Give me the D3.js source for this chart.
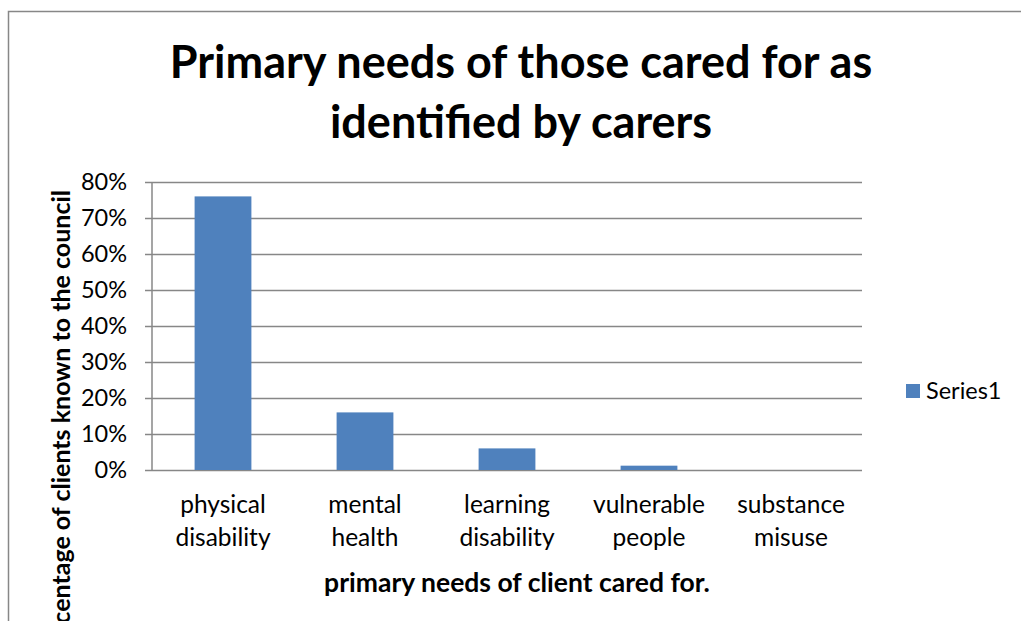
<!DOCTYPE html>
<html>
<head>
<meta charset="utf-8">
<script src="https://cdn.jsdelivr.net/npm/d3@7"></script>
<style>
  html, body { margin: 0; padding: 0; background: #fff; }
  svg { display: block; }
  text { font-family: Lato, "Open Sans", sans-serif; fill: #000; }
</style>
</head>
<body>
<svg id="chart" width="1021" height="621"></svg>
<script>
// Chart data
const categories = [
  ["physical", "disability"],
  ["mental", "health"],
  ["learning", "disability"],
  ["vulnerable", "people"],
  ["substance", "misuse"]
];
const series1 = [0.76, 0.16, 0.06, 0.012, 0];
const yTicks = [0, 0.1, 0.2, 0.3, 0.4, 0.5, 0.6, 0.7, 0.8];
const titleLines = ["Primary needs of those cared for as", "identified by carers"];
const xTitle = "primary needs of client cared for.";
const yTitle = "Percentage of clients known to the council";
const seriesName = "Series1";

const W = 1021, H = 621;
const plot = { left: 152, right: 862, top: 182, bottom: 470 };
const gridColor = "#878787";
const barColor = "#4f81bd";

const svg = d3.select("#chart");
svg.append("rect").attr("width", W).attr("height", H).attr("fill", "#fff");

// Outer chart frame (extends past the visible window on right and bottom)
svg.append("rect")
  .attr("x", 8.5).attr("y", 11.5)
  .attr("width", 1100).attr("height", 800)
  .attr("fill", "none").attr("stroke", gridColor).attr("stroke-width", 1.5);

// Title
const title = svg.append("text")
  .attr("text-anchor", "middle")
  .attr("font-weight", "bold")
  .attr("font-size", 45);
title.selectAll("tspan").data(titleLines).join("tspan")
  .attr("x", 521)
  .attr("y", (d, i) => 78 + i * 60)
  .text(d => d);

const keys = categories.map(c => c.join(" "));
const x = d3.scaleBand()
  .domain(keys)
  .range([plot.left, plot.right])
  .paddingInner(0.6)
  .paddingOuter(0.3);

const y = d3.scaleLinear()
  .domain([0, 0.8])
  .range([plot.bottom, plot.top]);

// Gridlines and y axis
const yAxis = d3.axisLeft(y)
  .tickValues(yTicks)
  .tickFormat(d3.format(".0%"))
  .tickSize(plot.right - plot.left + 7);

const gy = svg.append("g")
  .attr("transform", `translate(${plot.right},0)`)
  .call(yAxis);
gy.select(".domain").remove();
gy.selectAll(".tick line")
  .attr("stroke", gridColor).attr("stroke-width", 1.5);
gy.selectAll(".tick text")
  .attr("x", -(plot.right - plot.left) - 25)
  .attr("font-size", 23.5)
  .attr("fill", "#000")
  .style("font-family", "Lato, sans-serif");

// Vertical axis line
svg.append("line")
  .attr("x1", plot.left).attr("x2", plot.left)
  .attr("y1", plot.top).attr("y2", plot.bottom)
  .attr("stroke", gridColor).attr("stroke-width", 1.5);

// Bars
svg.append("g").selectAll("rect")
  .data(series1.map((v, i) => ({ key: keys[i], v })))
  .join("rect")
  .attr("x", d => x(d.key))
  .attr("width", x.bandwidth())
  .attr("y", d => y(d.v))
  .attr("height", d => y(0) - y(d.v))
  .attr("fill", barColor);

// Category labels (two lines each)
const catLabels = svg.append("g").selectAll("text")
  .data(categories)
  .join("text")
  .attr("text-anchor", "middle")
  .attr("font-size", 24.5);
catLabels.selectAll("tspan")
  .data(d => d.map(t => ({ t, key: d.join(" ") })))
  .join("tspan")
  .attr("x", d => x(d.key) + x.bandwidth() / 2)
  .attr("y", (d, i) => 513 + i * 33)
  .text(d => d.t);

// Axis titles
svg.append("text")
  .attr("x", 517).attr("y", 592)
  .attr("text-anchor", "middle")
  .attr("font-weight", "bold")
  .attr("font-size", 26.5)
  .text(xTitle);

svg.append("text")
  .attr("transform", "translate(70,190) rotate(-90)")
  .attr("text-anchor", "end")
  .attr("font-weight", "bold")
  .attr("font-size", 25)
  .text(yTitle);

// Legend
const legend = svg.append("g").attr("transform", "translate(906,384)");
legend.append("rect")
  .attr("width", 14).attr("height", 14)
  .attr("fill", barColor);
legend.append("text")
  .attr("x", 20).attr("y", 15)
  .attr("font-size", 23.5)
  .text(seriesName);
</script>
</body>
</html>
